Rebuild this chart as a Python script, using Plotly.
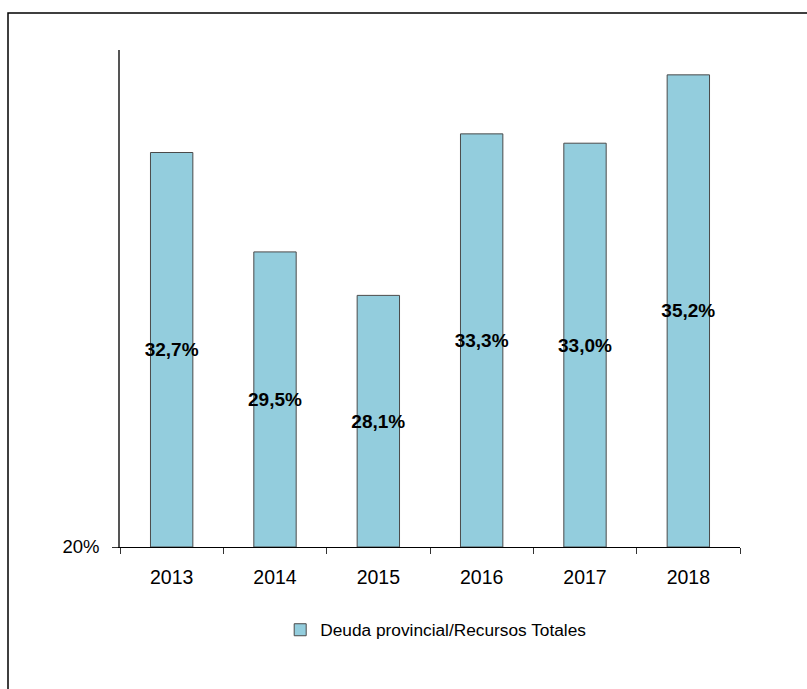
import plotly.graph_objects as go

years = ["2013", "2014", "2015", "2016", "2017", "2018"]
ratio = [32.7, 29.5, 28.1, 33.3, 33.0, 35.2]
labels = ["32,7%", "29,5%", "28,1%", "33,3%", "33,0%", "35,2%"]
series_name = "Deuda provincial/Recursos Totales"
y_tick_vals = [20]
y_tick_text = ["20%"]

W, H = 807, 689
L, R, T, B = 120, 67, 50, 142
pw, ph = W - L - R, H - T - B

fig = go.Figure(go.Bar(
    x=years, y=[v - 20 for v in ratio], base=20,
    name=series_name,
    text=labels, textposition="inside", insidetextanchor="middle",
    textangle=0, constraintext="none",
    textfont=dict(family="Liberation Sans", size=19, color="black"),
    texttemplate="<b>%{text}</b>",
    marker=dict(color="#93CDDD", line=dict(color="#4a4a4a", width=1)),
    showlegend=True,
))

fig.update_layout(
    width=W, height=H,
    margin=dict(l=L, r=R, t=T, b=B),
    paper_bgcolor="white", plot_bgcolor="white",
    bargap=0.59,
    font=dict(family="Liberation Sans", color="black"),
    showlegend=True,
    legend=dict(orientation="h", x=0.51, xanchor="center", y=-0.167, yanchor="middle",
                font=dict(size=17.3), itemwidth=30),
    uniformtext=dict(mode=False),
)
fig.update_xaxes(
    showline=True, linecolor="black", linewidth=1.2,
    ticks="outside", ticklen=6, tickcolor="#333", tickson="boundaries",
    tickfont=dict(size=19.5), ticklabelstandoff=12, showgrid=False, fixedrange=True,
)
fig.update_yaxes(
    range=[20, 36], showline=True, linecolor="#555", linewidth=1.5,
    tickvals=y_tick_vals, ticktext=y_tick_text, ticks="outside", ticklen=6, tickcolor="#333",
    tickfont=dict(size=18.5), ticklabelstandoff=9, showgrid=False, zeroline=False,
)
# outer frame
fig.add_shape(type="rect", xref="paper", yref="paper",
              x0=(8 - L) / pw, x1=3, y0=-3, y1=(H - B - 13) / ph,
              line=dict(color="black", width=1.5), layer="below")

fig.write_html("out.html", config={"displayModeBar": False},
               post_script="document.body.style.margin='0';document.body.style.overflow='hidden';")
